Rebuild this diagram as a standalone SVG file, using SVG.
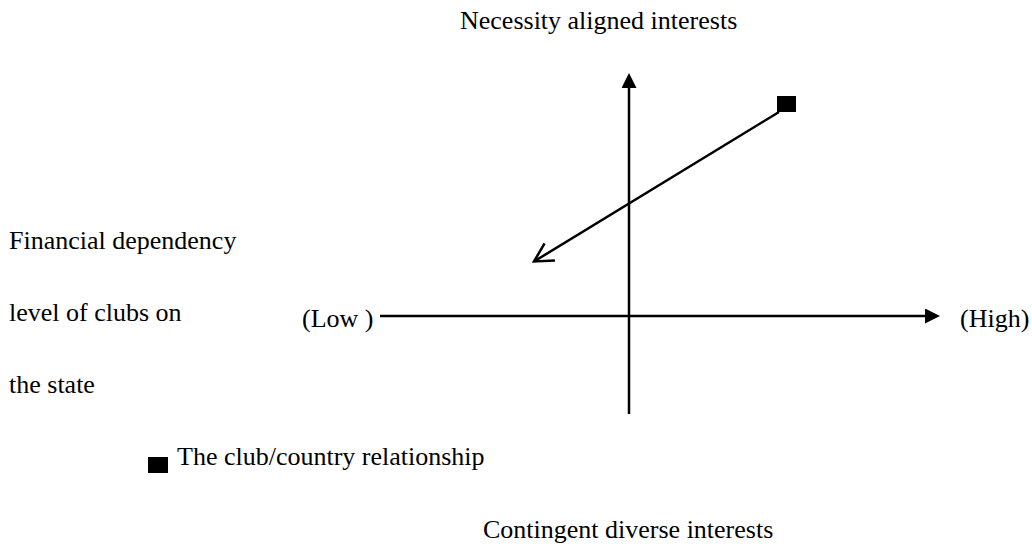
<svg xmlns="http://www.w3.org/2000/svg" width="1032" height="546" viewBox="0 0 1032 546">
  <style>
    .t { font-family: "Liberation Serif", "Times New Roman", serif; font-size: 26px; fill: #000; }
    .ax { stroke: #000; stroke-width: 2.5; fill: none; }
  </style>
  <defs>
    <marker id="tri" markerUnits="userSpaceOnUse" viewBox="0 0 15 15" markerWidth="15" markerHeight="15" refX="2" refY="7.5" orient="auto">
      <path d="M0,0 L15,7.5 L0,15 z" fill="#000"/>
    </marker>
    <marker id="open" markerUnits="userSpaceOnUse" viewBox="-24 -14 28 28" markerWidth="28" markerHeight="28" refX="0" refY="0" orient="auto" overflow="visible">
      <path d="M-18.5,-10 L0,0 L-18.5,10" fill="none" stroke="#000" stroke-width="2.5" stroke-linejoin="miter"/>
    </marker>
  </defs>
  <rect width="1032" height="546" fill="#fff"/>

  <g id="connectors">
    <line id="vertical-axis" class="ax" x1="629" y1="414" x2="629" y2="86" marker-end="url(#tri)"/>
    <line id="horizontal-axis" class="ax" x1="380" y1="316" x2="927" y2="316" marker-end="url(#tri)"/>
    <line id="relationship-trend" class="ax" x1="779" y1="112" x2="534" y2="261.5" marker-end="url(#open)"/>
  </g>

  <g id="top-label">
    <text class="t" x="460" y="29">Necessity aligned interests</text>
  </g>
  <g id="bottom-label">
    <text class="t" x="483" y="538">Contingent diverse interests</text>
  </g>
  <g id="axis-title">
    <text class="t" x="9" y="249">Financial dependency</text>
    <text class="t" x="9" y="321">level of clubs on</text>
    <text class="t" x="9" y="393">the state</text>
  </g>
  <g id="low-label">
    <text class="t" x="302" y="327">(Low )</text>
  </g>
  <g id="high-label">
    <text class="t" x="960" y="327">(High)</text>
  </g>
  <g id="club-marker">
    <rect x="777" y="96" width="19" height="16" fill="#000"/>
  </g>
  <g id="legend">
    <rect x="148" y="457" width="20" height="16" fill="#000"/>
    <text class="t" x="177" y="465">The club/country relationship</text>
  </g>
</svg>
